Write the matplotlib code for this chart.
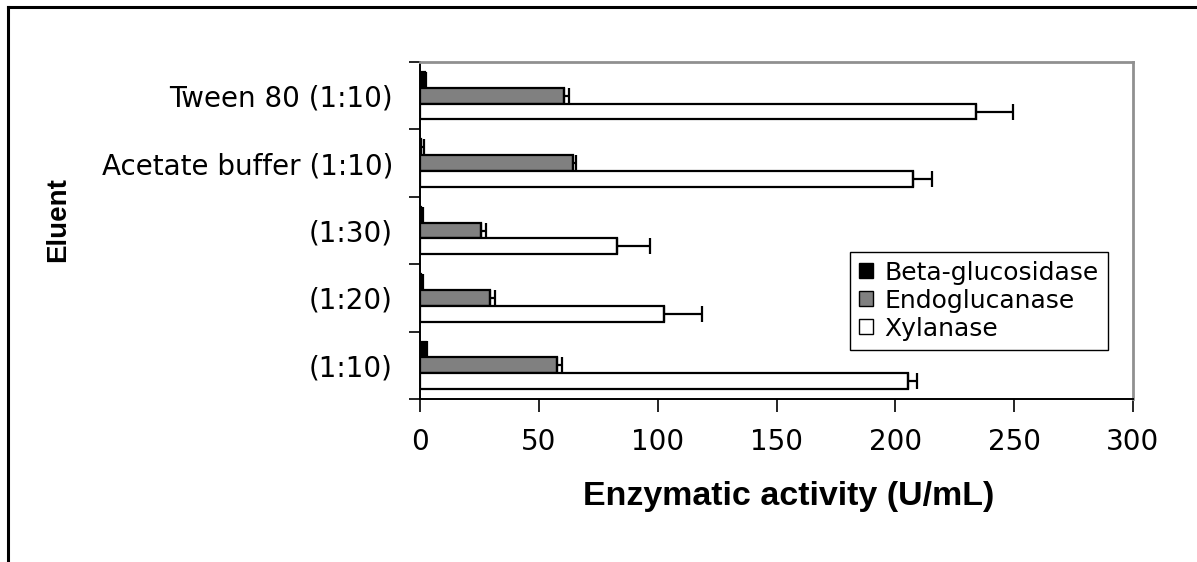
import numpy as np
import matplotlib
matplotlib.use("Agg")
import matplotlib.pyplot as plt
from matplotlib.lines import Line2D
from matplotlib.patches import Patch

categories = ["(1:10)", "(1:20)", "(1:30)", "Acetate buffer (1:10)", "Tween 80 (1:10)"]
beta = [2.4, 0.3, 0.3, 0.5, 2.2]
beta_err = [0.5, 0.8, 0.8, 1.2, 0.5]
endo = [57.6, 29.4, 25.7, 64.2, 60.7]
endo_err = [2.2, 2.0, 2.0, 1.3, 2.0]
xyl = [205.3, 102.5, 82.7, 207.4, 234.0]
xyl_err = [4.0, 16.0, 14.0, 8.0, 15.5]

series_names = ["Beta-glucosidase", "Endoglucanase", "Xylanase"]
series_colors = ["#000000", "#808080", "#ffffff"]

W, H = 1197, 562
fig = plt.figure(figsize=(W / 100, H / 100), dpi=100)
ax = fig.add_axes([420 / W, 1 - 399 / H, (1133 - 420) / W, (399 - 62) / H])

y = np.arange(len(categories))
h = 0.235
offsets = [h, 0.0, -h]
vals = [beta, endo, xyl]
errs = [beta_err, endo_err, xyl_err]
for v, e, off, c in zip(vals, errs, offsets, series_colors):
    ax.barh(y + off, v, height=h, color=c, edgecolor="black", linewidth=1.6, zorder=2)
    ax.errorbar(v, y + off, xerr=[np.zeros(len(e)), e], fmt="none", ecolor="black",
                elinewidth=1.6, capsize=6, capthick=1.6, zorder=3)

ax.set_xlim(0, 300)
ax.set_ylim(-0.5, len(categories) - 0.5)
ax.set_xticks([0, 50, 100, 150, 200, 250, 300])
ax.set_yticks(np.arange(-0.5, len(categories), 1.0))
ax.set_yticklabels([])
ax.set_yticks(y, minor=True)
ax.set_yticklabels(categories, minor=True)
ax.tick_params(axis="y", which="minor", length=0, pad=19.5, labelsize=20)
ax.tick_params(axis="y", which="major", length=8, width=1.2, direction="out")
ax.tick_params(axis="x", length=9, width=1.2, direction="out", labelsize=20, pad=12)
for lab in ax.get_xticklabels() + ax.get_yticklabels(minor=True):
    lab.set_fontfamily("DejaVu Sans")

for s in ["top", "right"]:
    ax.spines[s].set_color("#909090")
    ax.spines[s].set_linewidth(2)
for s in ["left", "bottom"]:
    ax.spines[s].set_color("black")
    ax.spines[s].set_linewidth(1.4)

fig.text(789 / W, 1 - 497 / H, "Enzymatic activity (U/mL)", ha="center", va="center",
         fontsize=24.5, fontweight="bold", family="Liberation Sans")
fig.text(58 / W, 1 - 220 / H, "Eluent", ha="center", va="center", rotation=90,
         fontsize=20, fontweight="bold", family="Liberation Sans")

handles = [Patch(facecolor=c, edgecolor="black", linewidth=1) for c in series_colors]
leg = fig.legend(handles, series_names, loc="upper left",
                 bbox_to_anchor=(850 / W, 1 - 252 / H), frameon=True, fancybox=False,
                 edgecolor="black", framealpha=1, borderpad=0.35, labelspacing=0.16,
                 handlelength=0.55, handleheight=0.55, handletextpad=0.48,
                 prop={"family": "DejaVu Sans", "size": 18}, borderaxespad=0)
leg.get_frame().set_linewidth(1.0)

fig.add_artist(Line2D([8 / W, 1.0], [1 - 7 / H, 1 - 7 / H], color="black", linewidth=2.2,
                      transform=fig.transFigure))
fig.add_artist(Line2D([8 / W, 8 / W], [1 - 7 / H, 0.0], color="black", linewidth=2.2,
                      transform=fig.transFigure))

fig.savefig("out.png", dpi=100)
